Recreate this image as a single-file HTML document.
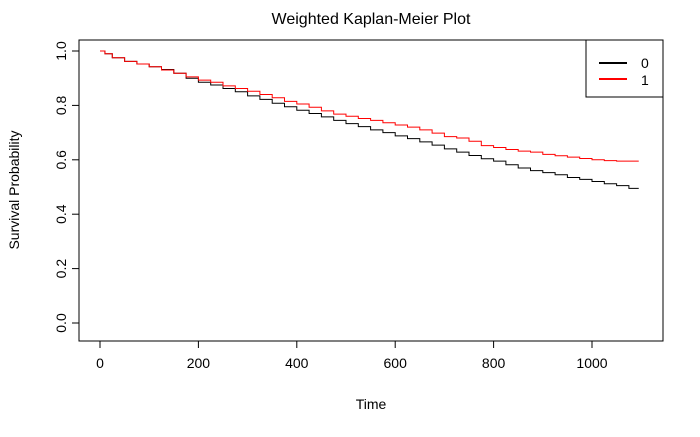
<!DOCTYPE html>
<html><head><meta charset="utf-8"><style>
body{margin:0;background:#fff;font-family:"Liberation Sans",Arial,sans-serif}
</style></head><body>
<svg width="700" height="432" xmlns="http://www.w3.org/2000/svg" font-family="Liberation Sans, Arial, sans-serif">
<text x="371" y="24" font-size="16" text-anchor="middle">Weighted Kaplan-Meier Plot</text>
<rect x="79" y="40" width="584" height="301" fill="none" stroke="#000"/>
<g id="axes"></g>
<g id="series"></g>
<text x="371" y="409" font-size="14" text-anchor="middle">Time</text>
<text transform="translate(19,190) rotate(-90)" font-size="14" text-anchor="middle">Survival Probability</text>
<g>
<rect x="586" y="40" width="77" height="57" fill="#fff" stroke="#000"/>
<line x1="599" y1="63" x2="627" y2="63" stroke="#000" stroke-width="2"/>
<line x1="599" y1="79" x2="627" y2="79" stroke="red" stroke-width="2"/>
<text x="641" y="68" font-size="14">0</text>
<text x="641" y="85" font-size="14">1</text>
</g>
</svg>
<script>
const xTicks=[0,200,400,600,800,1000];
const yTicks=[0,0.2,0.4,0.6,0.8,1.0];
const yTickLabels=["0.0","0.2","0.4","0.6","0.8","1.0"];
const times0=[0,10,25,50,75,100,125,150,175,200,225,250,275,300,325,350,375,400,425,450,475,500,525,550,575,600,625,650,675,700,725,750,775,800,825,850,875,900,925,950,975,1000,1025,1050,1075,1095];
const surv0=[1,0.99,0.975,0.962,0.952,0.942,0.932,0.918,0.9,0.885,0.875,0.862,0.85,0.835,0.822,0.808,0.795,0.782,0.77,0.758,0.745,0.733,0.722,0.71,0.7,0.688,0.678,0.666,0.654,0.64,0.628,0.616,0.604,0.595,0.582,0.57,0.56,0.553,0.545,0.535,0.528,0.52,0.512,0.505,0.495,0.495];
const times1=[0,10,25,50,75,100,125,150,175,200,225,250,275,300,325,350,375,400,425,450,475,500,525,550,575,600,625,650,675,700,725,750,775,800,825,850,875,900,925,950,975,1000,1025,1050,1075,1095];
const surv1=[1,0.99,0.975,0.962,0.952,0.942,0.93,0.918,0.905,0.893,0.885,0.872,0.862,0.852,0.84,0.828,0.815,0.805,0.793,0.78,0.768,0.76,0.752,0.745,0.736,0.728,0.72,0.71,0.698,0.685,0.68,0.668,0.652,0.645,0.638,0.632,0.628,0.62,0.615,0.61,0.605,0.6,0.597,0.595,0.595,0.595];
const NS="http://www.w3.org/2000/svg";
const xS=t=>100+t*0.492;
const yS=v=>323-v*272;
const ax=document.getElementById('axes');
function mk(tag,attrs,parent){const e=document.createElementNS(NS,tag);for(const k in attrs)e.setAttribute(k,attrs[k]);parent.appendChild(e);return e;}
xTicks.forEach(t=>{
 const tk=mk('line',{x1:xS(t),x2:xS(t),y1:341,y2:348,stroke:'#000'},ax);
 
 
 const tx=mk('text',{x:xS(t),y:368,'font-size':14,'text-anchor':'middle'},ax);
 tx.textContent=t;
 
 
});
yTicks.forEach((v,i)=>{
 const tk=mk('line',{x1:72,x2:79,y1:yS(v),y2:yS(v),stroke:'#000'},ax);
 
 
 const tx=mk('text',{transform:`translate(66,${yS(v)}) rotate(-90)`,'font-size':14,'text-anchor':'middle'},ax);
 tx.textContent=yTickLabels[i];
 
 
});
const sg=document.getElementById('series');
function step(ts,ss,color,name){
 let d=`M${xS(ts[0])},${yS(ss[0])}`;
 for(let i=1;i<ts.length;i++){d+=`H${xS(ts[i])}V${yS(ss[i])}`;}
 const p=mk('path',{d:d,fill:'none',stroke:color,'stroke-width':1},sg);
 
 
}
step(times0,surv0,'#000','km-curve-0');
step(times1,surv1,'red','km-curve-1');
</script>
</body></html>
